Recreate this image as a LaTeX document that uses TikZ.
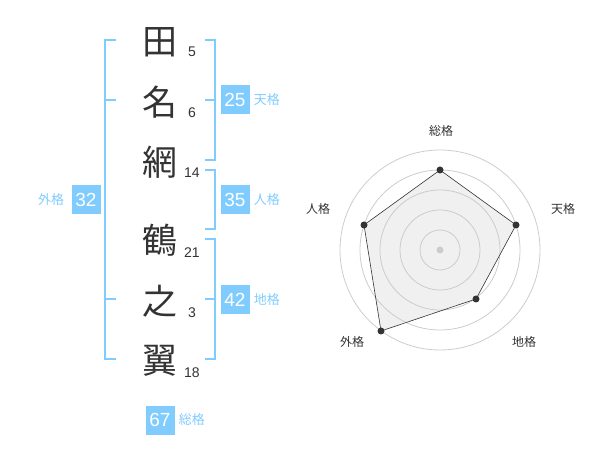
\documentclass[tikz,border=0pt]{standalone}
\usepackage{fontspec}
\setmainfont{Liberation Sans}
\newfontfamily\cjk{Noto Sans CJK JP}
\usetikzlibrary{positioning}
\definecolor{kakusky}{HTML}{80CCFF}
\definecolor{inkgray}{HTML}{333333}
\definecolor{ringgray}{HTML}{CCCCCC}
\definecolor{areagray}{HTML}{F0F0F0}

\begin{document}
\begin{tikzpicture}[
    x=1pt, y=-1pt,
    kanji/.style={font=\cjk\fontsize{35}{35}\selectfont, text=inkgray, inner sep=0pt},
    strokes/.style={font=\fontsize{14}{14}\selectfont, text=inkgray, inner sep=0pt},
    score/.style={fill=kakusky, text=white, font=\fontsize{19}{19}\selectfont, minimum width=29pt, minimum height=29pt, inner sep=0pt},
    kaku/.style={text=kakusky, font=\cjk\fontsize{13}{13}\selectfont, inner sep=0pt},
    bracket/.style={draw=kakusky, line width=2pt},
    ring/.style={draw=ringgray, line width=0.8pt},
    axis/.style={font=\cjk\fontsize{12}{12}\selectfont, text=inkgray, inner sep=0pt},
    dot/.style={circle, fill=inkgray, inner sep=0pt, minimum size=7pt}]
    \useasboundingbox (0,0) rectangle (600,470);

    % Name characters and stroke counts
    \node[kanji] (c1) at (160,42) {田};
    \node[kanji] (c2) at (160,102) {名};
    \node[kanji] (c3) at (160,162) {網};
    \node[kanji] (c4) at (160,240) {鶴};
    \node[kanji] (c5) at (160,301) {之};
    \node[kanji] (c6) at (160,361) {翼};
    \node[strokes] (n1) at (192,52) {5};
    \node[strokes] (n2) at (192,113) {6};
    \node[strokes] (n3) at (192,173) {14};
    \node[strokes] (n4) at (192,253) {21};
    \node[strokes] (n5) at (192,313) {3};
    \node[strokes] (n6) at (192,373) {18};

    % Brackets
    \draw[bracket] (205,40) -- (215,40) -- (215,160) -- (205,160);
    \draw[bracket] (205,100) -- (215,100);
    \draw[bracket] (205,170) -- (215,170) -- (215,229) -- (205,229);
    \draw[bracket] (205,239) -- (215,239) -- (215,359) -- (205,359);
    \draw[bracket] (205,299) -- (215,299);
    \draw[bracket] (116,40) -- (105,40) -- (105,359) -- (116,359);
    \draw[bracket] (105,100) -- (116,100);
    \draw[bracket] (105,299) -- (116,299);

    % Scores
    \node[score] (ten) at (235,100) {25};
    \node[kaku, right=4pt of ten] {天格};
    \node[score] (jin) at (235,200) {35};
    \node[kaku, right=4pt of jin] {人格};
    \node[score] (chi) at (235,300) {42};
    \node[kaku, right=4pt of chi] {地格};
    \node[score] (gai) at (86,200) {32};
    \node[kaku, left=7pt of gai] {外格};
    \node[score] (sou) at (160,420) {67};
    \node[kaku, right=4pt of sou] {総格};

    % Radar chart
    \coordinate (o) at (440,250);
    \coordinate (p1) at (440,170);
    \coordinate (p2) at (516,225);
    \coordinate (p3) at (476,299);
    \coordinate (p4) at (381,331);
    \coordinate (p5) at (364,225);
    \fill[areagray] (p1) -- (p2) -- (p3) -- (p4) -- (p5) -- cycle;
    \foreach \r in {20,40,60,80,100}
        \draw[ring] (o) circle[radius=\r];
    \fill[ringgray] (o) circle[radius=3.5];
    \draw[inkgray, line width=0.6pt] (p1) -- (p2) -- (p3) -- (p4) -- (p5) -- cycle;
    \foreach \p in {p1,p2,p3,p4,p5}
        \node[dot] at (\p) {};
    \node[axis] at (441,131) {総格};
    \node[axis] at (563,209) {天格};
    \node[axis] at (524,342) {地格};
    \node[axis] at (352,342) {外格};
    \node[axis] at (318,209) {人格};
\end{tikzpicture}
\end{document}
